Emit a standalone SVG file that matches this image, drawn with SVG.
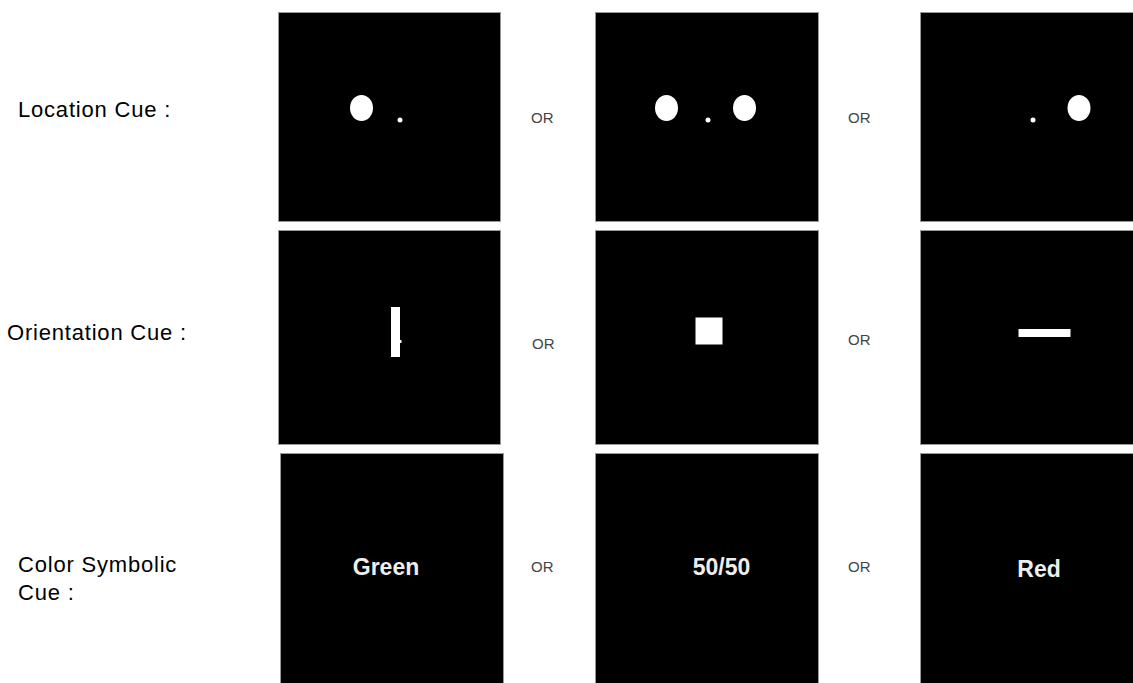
<svg xmlns="http://www.w3.org/2000/svg" width="1133" height="683" viewBox="0 0 1133 683">
<style>
.panel{fill:#000;stroke:#999;stroke-width:1}
.w{fill:#fff}
.lbl{font-family:"Liberation Sans",Arial,sans-serif;font-size:22px;letter-spacing:0.8px;fill:#000}
.or{font-family:"Liberation Sans",Arial,sans-serif;font-size:15px;fill:#444}
.cue{font-family:"Liberation Sans",Arial,sans-serif;font-size:23px;font-weight:bold;fill:#eee}
</style>
<rect width="1133" height="683" fill="#fff"/>
<g id="labels">
<text class="lbl" x="18" y="117">Location Cue :</text>
<text class="lbl" x="7" y="340">Orientation Cue :</text>
<text class="lbl" x="18" y="572">Color Symbolic</text>
<text class="lbl" x="18" y="600">Cue :</text>
</g>
<g id="or-labels">
<text class="or" x="531" y="123">OR</text>
<text class="or" x="848" y="123">OR</text>
<text class="or" x="532" y="349">OR</text>
<text class="or" x="848" y="345">OR</text>
<text class="or" x="531" y="572">OR</text>
<text class="or" x="848" y="572">OR</text>
</g>
<g id="loc-left">
<rect class="panel" x="278.5" y="12.5" width="222" height="209"/>
<ellipse class="w" cx="361.5" cy="108" rx="11.5" ry="13"/>
<circle class="w" cx="400" cy="120" r="2.5"/>
</g>
<g id="loc-both">
<rect class="panel" x="595.5" y="12.5" width="223" height="209"/>
<ellipse class="w" cx="666.5" cy="108" rx="11.5" ry="13"/>
<ellipse class="w" cx="744.5" cy="108" rx="11.5" ry="13"/>
<circle class="w" cx="708" cy="120" r="2.5"/>
</g>
<g id="loc-right">
<rect class="panel" x="920.5" y="12.5" width="220" height="209"/>
<ellipse class="w" cx="1079" cy="108" rx="11.5" ry="13"/>
<circle class="w" cx="1033" cy="120" r="2.5"/>
</g>
<g id="ori-vertical">
<rect class="panel" x="278.5" y="230.5" width="222" height="214"/>
<rect class="w" x="391" y="307" width="9" height="50"/>
<rect class="w" x="400" y="340" width="1.5" height="3"/>
</g>
<g id="ori-square">
<rect class="panel" x="595.5" y="230.5" width="223" height="214"/>
<rect class="w" x="695.5" y="317.5" width="27" height="27"/>
</g>
<g id="ori-horizontal">
<rect class="panel" x="920.5" y="230.5" width="220" height="214"/>
<rect class="w" x="1018.5" y="329" width="52" height="8"/>
</g>
<g id="col-green">
<rect class="panel" x="280.5" y="453.5" width="223" height="240"/>
<text class="cue" x="386" y="575" text-anchor="middle">Green</text>
</g>
<g id="col-5050">
<rect class="panel" x="595.5" y="453.5" width="223" height="240"/>
<text class="cue" x="721.5" y="575" text-anchor="middle">50/50</text>
</g>
<g id="col-red">
<rect class="panel" x="920.5" y="453.5" width="220" height="240"/>
<text class="cue" x="1039" y="577" text-anchor="middle">Red</text>
</g>
</svg>
